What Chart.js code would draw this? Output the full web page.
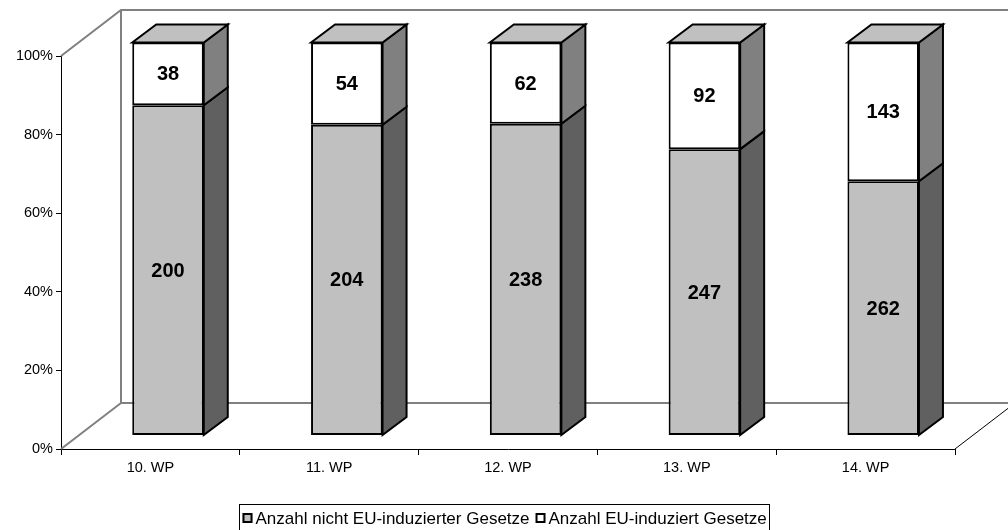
<!DOCTYPE html>
<html><head><meta charset="utf-8">
<script src="https://cdn.jsdelivr.net/npm/chart.js@4/dist/chart.umd.min.js"></script>
<style>html,body{margin:0;padding:0;background:#fff;} #wrap{width:1008px;height:530px;position:relative;}</style>
</head><body><div id="wrap"><canvas id="c" width="1008" height="530"></canvas></div>
<script>
const categories = ['10. WP', '11. WP', '12. WP', '13. WP', '14. WP'];
const nichtEU = [200, 204, 238, 247, 262];
const euInduziert = [38, 54, 62, 92, 143];
const yTickValues = [0, 20, 40, 60, 80, 100];
const seriesNames = ['Anzahl nicht EU-induzierter Gesetze', 'Anzahl EU-induziert Gesetze'];

const totals = categories.map((_, i) => nichtEU[i] + euInduziert[i]);
const shareNicht = nichtEU.map((v, i) => v / totals[i] * 100);
const shareEU = euInduziert.map((v, i) => v / totals[i] * 100);

const FONT = "'Liberation Sans', Arial, sans-serif";
// depth geometry (styling)
const WALL_DX = 60, WALL_DY = -46;   // full depth of the 3D box
const BAR_OX = 17.6, BAR_OY = -13.5; // bar plane offset
const BAR_DX = 24, BAR_DY = -18;     // bar depth

const sideColors = ['#606060', '#808080'];
const topColors = ['#a0a0a0', '#c0c0c0'];

const depth3d = {
  id: 'depth3d',
  beforeDatasetsDraw(chart) {
    const { ctx, chartArea: a } = chart;
    const ys = chart.scales.y;
    const x0 = a.left, x1 = a.right;
    const yb = ys.getPixelForValue(0), yt = ys.getPixelForValue(100);
    ctx.save();
    ctx.strokeStyle = '#808080'; ctx.lineWidth = 2; ctx.lineCap = 'butt';
    ctx.beginPath();
    ctx.moveTo(x0, yt); ctx.lineTo(x0 + WALL_DX, yt + WALL_DY); ctx.lineTo(x1 + WALL_DX, yt + WALL_DY);
    ctx.moveTo(x0 + WALL_DX, yt + WALL_DY); ctx.lineTo(x0 + WALL_DX, yb + WALL_DY); ctx.lineTo(x1 + WALL_DX, yb + WALL_DY);
    ctx.moveTo(x0, yb); ctx.lineTo(x0 + WALL_DX, yb + WALL_DY);
    ctx.stroke();
    ctx.strokeStyle = '#000'; ctx.lineWidth = 1;
    ctx.beginPath(); ctx.moveTo(x1, yb); ctx.lineTo(x1 + WALL_DX, yb + WALL_DY); ctx.stroke();
    ctx.restore();

    ctx.save();
    ctx.translate(BAR_OX, BAR_OY);
    const nds = chart.data.datasets.length;
    chart.data.datasets.forEach((ds, di) => {
      const meta = chart.getDatasetMeta(di);
      meta.data.forEach(el => {
        const p = el.getProps(['x', 'y', 'base', 'width'], true);
        const l = p.x - p.width / 2, r = p.x + p.width / 2;
        const top = Math.min(p.y, p.base), bot = Math.max(p.y, p.base);
        ctx.lineWidth = 2; ctx.strokeStyle = '#000'; ctx.lineJoin = 'miter';
        ctx.fillStyle = sideColors[di];
        ctx.beginPath();
        ctx.moveTo(r, top); ctx.lineTo(r + BAR_DX, top + BAR_DY); ctx.lineTo(r + BAR_DX, bot + BAR_DY); ctx.lineTo(r, bot);
        ctx.closePath(); ctx.fill(); ctx.stroke();
        if (di === nds - 1) {
          ctx.fillStyle = topColors[di];
          ctx.beginPath();
          ctx.moveTo(l, top); ctx.lineTo(l + BAR_DX, top + BAR_DY); ctx.lineTo(r + BAR_DX, top + BAR_DY); ctx.lineTo(r, top);
          ctx.closePath(); ctx.fill(); ctx.stroke();
        }
      });
    });
  },
  afterDatasetsDraw(chart) {
    const { ctx } = chart;
    ctx.font = 'bold 20px ' + FONT;
    ctx.fillStyle = '#000'; ctx.textAlign = 'center'; ctx.textBaseline = 'middle';
    const raw = [nichtEU, euInduziert];
    chart.data.datasets.forEach((ds, di) => {
      chart.getDatasetMeta(di).data.forEach((el, i) => {
        const p = el.getProps(['x', 'y', 'base'], true);
        ctx.fillText(String(raw[di][i]), p.x, (p.y + p.base) / 2 + 1);
      });
    });
    ctx.restore();
  },
  afterDraw(chart) {
    const { ctx } = chart;
    ctx.save();
    ctx.font = '17px ' + FONT;
    const box = 10, gapBT = 3, gapItems = 6, padX = 3;
    const ds = chart.data.datasets;
    const widths = ds.map(d => ctx.measureText(d.label).width);
    let total = padX * 2;
    widths.forEach((w, i) => { total += box + gapBT + w + (i < widths.length - 1 ? gapItems : 0); });
    const cx = 504;
    const left = Math.round(cx - total / 2) + 0.5;
    const topY = 504.5, midY = 518;
    ctx.strokeStyle = '#000'; ctx.lineWidth = 1;
    ctx.strokeRect(left, topY, Math.round(total), 40);
    let x = left + padX;
    ds.forEach((d, i) => {
      ctx.fillStyle = d.backgroundColor;
      ctx.fillRect(x, midY - box / 2, box, box);
      ctx.lineWidth = 2; ctx.strokeStyle = '#000';
      ctx.strokeRect(x + 1, midY - box / 2 + 1, box - 2, box - 2);
      ctx.fillStyle = '#000'; ctx.textAlign = 'left'; ctx.textBaseline = 'middle';
      ctx.fillText(d.label, x + box + gapBT, midY + 1);
      x += box + gapBT + widths[i] + gapItems;
    });
    ctx.restore();
  }
};

new Chart(document.getElementById('c'), {
  type: 'bar',
  data: {
    labels: categories,
    datasets: [
      { label: seriesNames[0], data: shareNicht, backgroundColor: '#c0c0c0', borderColor: '#000', borderWidth: 2, borderSkipped: false, clip: false },
      { label: seriesNames[1], data: shareEU, backgroundColor: '#ffffff', borderColor: '#000', borderWidth: 2, borderSkipped: false, clip: false }
    ]
  },
  options: {
    responsive: false,
    animation: false,
    devicePixelRatio: 1,
    events: [],
    layout: { padding: { top: 56, right: 53, left: 0, bottom: 0 } },
    datasets: { bar: { categoryPercentage: 1, barPercentage: 0.4 } },
    plugins: { legend: { display: false }, tooltip: { enabled: false } },
    scales: {
      x: {
        stacked: true,
        afterFit(s) { s.height = 81; },
        grid: { offset: true, drawOnChartArea: false, drawTicks: true, tickLength: 6, color: '#000', lineWidth: 1 },
        border: { display: true, color: '#000', width: 1 },
        ticks: { color: '#000', font: { family: FONT, size: 14.5 }, padding: 4, maxRotation: 0 }
      },
      y: {
        stacked: true, min: 0, max: 100,
        afterFit(s) { s.width = 61; },
        afterBuildTicks(s) { s.ticks = yTickValues.map(v => ({ value: v })); },
        grid: { drawOnChartArea: false, drawTicks: true, tickLength: 5, color: '#000', lineWidth: 1 },
        border: { display: true, color: '#000', width: 1 },
        ticks: { color: '#000', font: { family: FONT, size: 14.5 }, padding: 3, callback: v => v + '%' }
      }
    }
  },
  plugins: [depth3d]
});
</script>
</body></html>
